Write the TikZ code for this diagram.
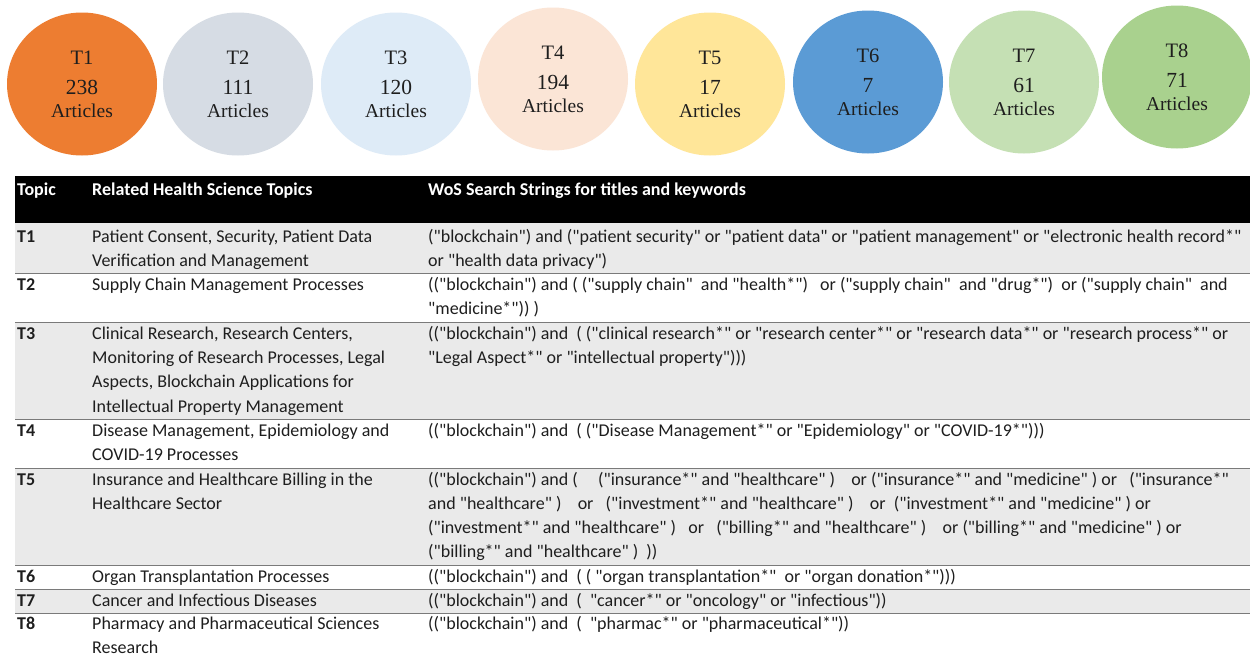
\documentclass[tikz,border=0pt]{standalone}
\usepackage{fontspec}
\setmainfont{Carlito}[Ligatures=TeXOff]
\newfontfamily\bubblefont{Liberation Serif}
\usetikzlibrary{shapes.geometric}

\definecolor{tOne}{HTML}{ED7D31}
\definecolor{tTwo}{HTML}{D6DCE4}
\definecolor{tThree}{HTML}{DEEBF7}
\definecolor{tFour}{HTML}{FBE5D6}
\definecolor{tFive}{HTML}{FFE699}
\definecolor{tSix}{HTML}{5B9BD5}
\definecolor{tSeven}{HTML}{C5E0B4}
\definecolor{tEight}{HTML}{A9D18E}
\definecolor{rowgray}{HTML}{EAEAEA}
\definecolor{rulegray}{HTML}{7A7A7A}
\definecolor{ink}{HTML}{1E1E1E}

% multi-line cell whose reference point is the first baseline
\newcommand\cellrows[1]{\begin{tabular}[t]{@{}l@{}}#1\end{tabular}}
% bubble caption: topic, article count, "Articles"
\newcommand\bubblelabel[2]{\begin{tabular}[t]{@{}c@{}}%
  {\fontsize{20.5}{26}\selectfont #1}\\[4pt]%
  {\fontsize{21.5}{26}\selectfont #2}\\[-3pt]%
  Articles\end{tabular}}

\tikzset{
  bubble/.style={ellipse, minimum width=150, minimum height=143, inner sep=0, draw=none},
  bubbletext/.style={inner sep=0, anchor=base, text=ink,
    font=\bubblefont\fontsize{19.5}{26}\selectfont},
  celltext/.style={inner sep=0, anchor=base west, text=ink,
    font=\fontsize{18}{24.3}\selectfont},
  headtext/.style={inner sep=0, anchor=base west, text=white,
    font=\bfseries\fontsize{18}{24.3}\selectfont},
  topictext/.style={celltext, font=\bfseries\fontsize{18}{24.3}\selectfont},
  rowrule/.style={draw=rulegray, line width=0.9},
}

\begin{document}
\begin{tikzpicture}[x=1pt, y=-1pt]
\useasboundingbox (0,0) rectangle (1250,656);
\fill[white] (0,0) rectangle (1250,656);

% ---- topic bubbles ----
\node[bubble, fill=tOne]   (b1) at (82,84)   {};
\node[bubble, fill=tTwo]   (b2) at (238,84)  {};
\node[bubble, fill=tThree] (b3) at (396,84)  {};
\node[bubble, fill=tFour]  (b4) at (553,79)  {};
\node[bubble, fill=tFive]  (b5) at (710,84)  {};
\node[bubble, fill=tSix]   (b6) at (868,82)  {};
\node[bubble, fill=tSeven] (b7) at (1024,82) {};
\node[bubble, fill=tEight] (b8) at (1177,77) {};

\node[bubbletext] (n1) at ([yshift=20]b1.center) {\bubblelabel{T1}{238}};
\node[bubbletext] (n2) at ([yshift=20]b2.center) {\bubblelabel{T2}{111}};
\node[bubbletext] (n3) at ([yshift=20]b3.center) {\bubblelabel{T3}{120}};
\node[bubbletext] (n4) at ([yshift=20]b4.center) {\bubblelabel{T4}{194}};
\node[bubbletext] (n5) at ([yshift=20]b5.center) {\bubblelabel{T5}{17}};
\node[bubbletext] (n6) at ([yshift=20]b6.center) {\bubblelabel{T6}{7}};
\node[bubbletext] (n7) at ([yshift=20]b7.center) {\bubblelabel{T7}{61}};
\node[bubbletext] (n8) at ([yshift=20]b8.center) {\bubblelabel{T8}{71}};

% ---- table body ----
\fill[black]   (15,176) rectangle (1250,223);
\fill[rowgray] (15,223) rectangle (1250,273);
\fill[rowgray] (15,322) rectangle (1250,419);
\fill[rowgray] (15,468) rectangle (1250,565);
\fill[rowgray] (15,589) rectangle (1250,613);
\foreach \y in {273,322,419,468,565,589,613}
  \draw[rowrule] (15,\y) -- (1250,\y);

% header
\node[headtext] (h1) at (17,195) {Topic};
\node[headtext] (h2) at (92,195) {Related Health Science Topics};
\node[headtext] (h3) at (428,195) {WoS Search Strings for titles and keywords};

% T1
\node[topictext] (k1) at (17,242) {T1};
\node[celltext] (r1) at (92,242) {\cellrows{Patient Consent, Security, Patient Data\\Verification and Management}};
\node[celltext] (s1) at (428,242) {\cellrows{("blockchain") and ("patient security" or "patient data" or "patient management" or "electronic health record*"\\or "health data privacy")}};

% T2
\node[topictext] (k2) at (17,290.6) {T2};
\node[celltext] (r2) at (92,290.6) {\cellrows{Supply Chain Management Processes}};
\node[celltext] (s2) at (428,290.6) {\cellrows{(("blockchain") and ( ("supply chain"~ and "health*")~~ or ("supply chain"~ and "drug*")~ or ("supply chain"~ and\\"medicine*")) )}};

% T3
\node[topictext] (k3) at (17,339.2) {T3};
\node[celltext] (r3) at (92,339.2) {\cellrows{Clinical Research, Research Centers,\\Monitoring of Research Processes, Legal\\Aspects, Blockchain Applications for\\Intellectual Property Management}};
\node[celltext] (s3) at (428,339.2) {\cellrows{(("blockchain") and~ ( ("clinical research*" or "research center*" or "research data*" or "research process*" or\\"Legal Aspect*" or "intellectual property")))}};

% T4
\node[topictext] (k4) at (17,436.4) {T4};
\node[celltext] (r4) at (92,436.4) {\cellrows{Disease Management, Epidemiology and\\COVID-19 Processes}};
\node[celltext] (s4) at (428,436.4) {\cellrows{(("blockchain") and~ ( ("Disease Management*" or "Epidemiology" or "COVID-19*")))}};

% T5
\node[topictext] (k5) at (17,485) {T5};
\node[celltext] (r5) at (92,485) {\cellrows{Insurance and Healthcare Billing in the\\Healthcare Sector}};
\node[celltext] (s5) at (428,485) {\cellrows{(("blockchain") and (~~~~ ("insurance*" and "healthcare" )~~~ or ("insurance*" and "medicine" ) or~~ ("insurance*"\\and "healthcare" )~~~ or~~ ("investment*" and "healthcare" )~~~ or~ ("investment*" and "medicine" ) or\\("investment*" and "healthcare" )~~ or~~ ("billing*" and "healthcare" )~~~ or ("billing*" and "medicine" ) or\\("billing*" and "healthcare" )~ ))}};

% T6
\node[topictext] (k6) at (17,582.2) {T6};
\node[celltext] (r6) at (92,582.2) {\cellrows{Organ Transplantation Processes}};
\node[celltext] (s6) at (428,582.2) {\cellrows{(("blockchain") and~ ( ( "organ transplantation*"~ or "organ donation*")))}};

% T7
\node[topictext] (k7) at (17,606.5) {T7};
\node[celltext] (r7) at (92,606.5) {\cellrows{Cancer and Infectious Diseases}};
\node[celltext] (s7) at (428,606.5) {\cellrows{(("blockchain") and~ (~ "cancer*" or "oncology" or "infectious"))}};

% T8
\node[topictext] (k8) at (17,629.6) {T8};
\node[celltext] (r8) at (92,629.6) {\cellrows{Pharmacy and Pharmaceutical Sciences\\Research}};
\node[celltext] (s8) at (428,629.6) {\cellrows{(("blockchain") and~ (~ "pharmac*" or "pharmaceutical*"))}};
\end{tikzpicture}
\end{document}
